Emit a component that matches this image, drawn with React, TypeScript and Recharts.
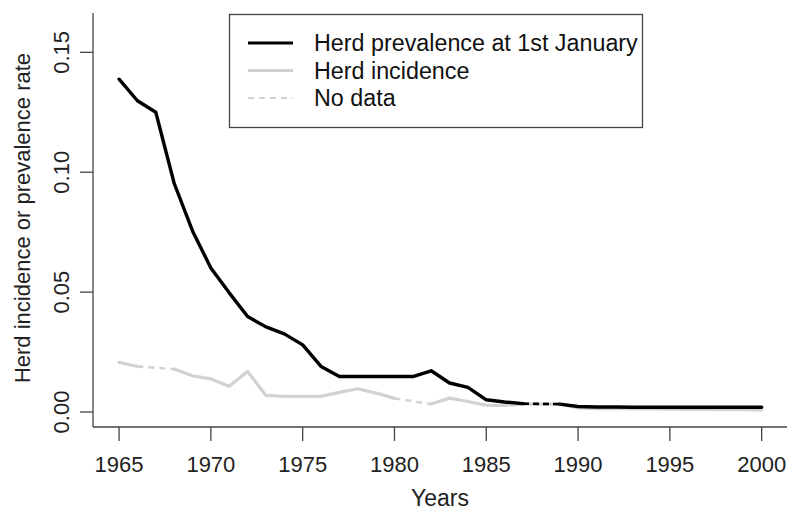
import React from 'react';
import { LineChart, Line, XAxis, YAxis } from 'recharts';

const years = [
  1965, 1966, 1967, 1968, 1969, 1970, 1971, 1972, 1973, 1974, 1975, 1976,
  1977, 1978, 1979, 1980, 1981, 1982, 1983, 1984, 1985, 1986, 1987, 1988,
  1989, 1990, 1991, 1992, 1993, 1994, 1995, 1996, 1997, 1998, 1999, 2000,
];

// herd prevalence at 1st January (null = no data)
const prevalence: (number | null)[] = [
  0.1388, 0.1298, 0.125, 0.0954, 0.0755, 0.0601, 0.0497, 0.0398, 0.0355, 0.0326,
  0.028, 0.019, 0.0148, 0.0148, 0.0148, 0.0148, 0.0148, 0.0172, 0.0121, 0.0103,
  0.0051, 0.0042, 0.0035, null, 0.0033, 0.0023, 0.0021, 0.0021, 0.002, 0.002,
  0.002, 0.002, 0.002, 0.002, 0.002, 0.002,
];

// herd incidence (null = no data)
const incidence: (number | null)[] = [
  0.0207, 0.019, null, 0.0179, 0.0151, 0.0138, 0.0107, 0.0169, 0.0069, 0.0065,
  0.0065, 0.0065, 0.0082, 0.0097, 0.0079, 0.0057, null, 0.0033, 0.0058, 0.0044,
  0.0028, 0.0028, 0.0033, 0.0033, 0.0033, 0.0017, 0.0014, 0.0015, 0.0014, 0.0013,
  0.0012, 0.0011, 0.0011, 0.001, 0.001, 0.0009,
];

const xTicks = [1965, 1970, 1975, 1980, 1985, 1990, 1995, 2000];
const yTicks = [0, 0.05, 0.1, 0.15];

const FONT = '"Liberation Sans", Arial, Helvetica, sans-serif';
const AXIS = '#444';
const GREY = '#d2d2d2';

// dashed bridges over the missing years, one key per gap
const gapKeys = (arr: (number | null)[], prefix: string) =>
  arr.map((v, i) => (v === null ? `${prefix}${i}` : null)).filter(Boolean) as string[];

const incGaps = gapKeys(incidence, 'incGap');
const prevGaps = gapKeys(prevalence, 'prevGap');

const data = years.map((year, i) => {
  const row: Record<string, number | null> = {
    year,
    prevalence: prevalence[i],
    incidence: incidence[i],
  };
  const fill = (arr: (number | null)[], prefix: string) => {
    arr.forEach((v, j) => {
      if (v !== null) return;
      row[`${prefix}${j}`] = i === j - 1 || i === j + 1 ? arr[i] : null;
    });
  };
  fill(incidence, 'incGap');
  fill(prevalence, 'prevGap');
  return row;
});

const XTick = (props: any) => {
  const { x, y, payload } = props;
  return (
    <text x={x} y={y + 31} textAnchor="middle" fontSize={22} fontFamily={FONT} fill="#222">
      {payload.value}
    </text>
  );
};

const YTick = (props: any) => {
  const { x, y, payload } = props;
  const tx = x - 11;
  return (
    <text
      x={tx}
      y={y}
      transform={`rotate(-90, ${tx}, ${y})`}
      textAnchor="middle"
      fontSize={22}
      fontFamily={FONT}
      fill="#222"
    >
      {Number(payload.value).toFixed(2)}
    </text>
  );
};

const legendRows = [
  { label: 'Herd prevalence at 1st January', color: '#000', width: 3.2, dash: undefined },
  { label: 'Herd incidence', color: GREY, width: 3.2, dash: undefined },
  { label: 'No data', color: GREY, width: 2.2, dash: '6 5' },
];

const ChartLegend = () => (
  <svg
    width={414}
    height={114}
    style={{ position: 'absolute', left: 229, top: 14, overflow: 'visible' }}
  >
    <rect x={0.5} y={0.5} width={413} height={113} fill="#fff" stroke={AXIS} strokeWidth={1.3} />
    {legendRows.map((r, i) => {
      const cy = 29 + i * 27.5;
      return (
        <g key={r.label}>
          <line
            x1={19}
            x2={64}
            y1={cy}
            y2={cy}
            stroke={r.color}
            strokeWidth={r.width}
            strokeDasharray={r.dash}
          />
          <text x={85} y={cy + 8} fontSize={23.3} fontFamily={FONT} fill="#111">
            {r.label}
          </text>
        </g>
      );
    })}
  </svg>
);

export default function App() {
  return (
    <div style={{ position: 'absolute', left: 0, top: 0, width: 800, height: 518, background: '#fff' }}>
      <LineChart
        width={800}
        height={518}
        data={data}
        margin={{ top: 13, right: 13, bottom: 0, left: 0 }}
      >
        <XAxis
          dataKey="year"
          type="number"
          domain={[1963.58, 2001.38]}
          ticks={xTicks}
          interval={0}
          height={91}
          tickSize={14}
          tickMargin={0}
          stroke={AXIS}
          strokeWidth={1.3}
          tickLine={{ stroke: AXIS, strokeWidth: 1.3 }}
          tick={<XTick />}
          allowDataOverflow
          label={{
            content: (p: any) => (
              <text
                x={p.viewBox.x + p.viewBox.width / 2}
                y={506}
                textAnchor="middle"
                fontSize={23}
                fontFamily={FONT}
                fill="#222"
              >
                Years
              </text>
            ),
          }}
        />
        <YAxis
          type="number"
          domain={[-0.00625, 0.1664]}
          ticks={yTicks}
          interval={0}
          width={93}
          tickSize={13}
          tickMargin={0}
          stroke={AXIS}
          strokeWidth={1.3}
          tickLine={{ stroke: AXIS, strokeWidth: 1.3 }}
          tick={<YTick />}
          allowDataOverflow
          label={{
            content: (p: any) => {
              const cy = p.viewBox.y + p.viewBox.height / 2 - 2;
              return (
                <text
                  x={30}
                  y={cy}
                  transform={`rotate(-90, 30, ${cy})`}
                  textAnchor="middle"
                  fontSize={22}
                  fontFamily={FONT}
                  fill="#222"
                >
                  Herd incidence or prevalence rate
                </text>
              );
            },
          }}
        />
        <Line
          dataKey="incidence"
          stroke={GREY}
          strokeWidth={3.2}
          dot={false}
          activeDot={false}
          strokeLinejoin="round"
          strokeLinecap="round"
          isAnimationActive={false}
        />
        {incGaps.map((k) => (
          <Line
            key={k}
            dataKey={k}
            stroke={GREY}
            strokeWidth={2.6}
            strokeDasharray="6 5"
            connectNulls
            dot={false}
            activeDot={false}
            isAnimationActive={false}
          />
        ))}
        <Line
          dataKey="prevalence"
          stroke="#000"
          strokeWidth={3.4}
          dot={false}
          activeDot={false}
          strokeLinejoin="round"
          strokeLinecap="round"
          isAnimationActive={false}
        />
        {prevGaps.map((k) => (
          <Line
            key={k}
            dataKey={k}
            stroke="#000"
            strokeWidth={2.6}
            strokeDasharray="6 4"
            connectNulls
            dot={false}
            activeDot={false}
            isAnimationActive={false}
          />
        ))}
      </LineChart>
      <ChartLegend />
    </div>
  );
}
